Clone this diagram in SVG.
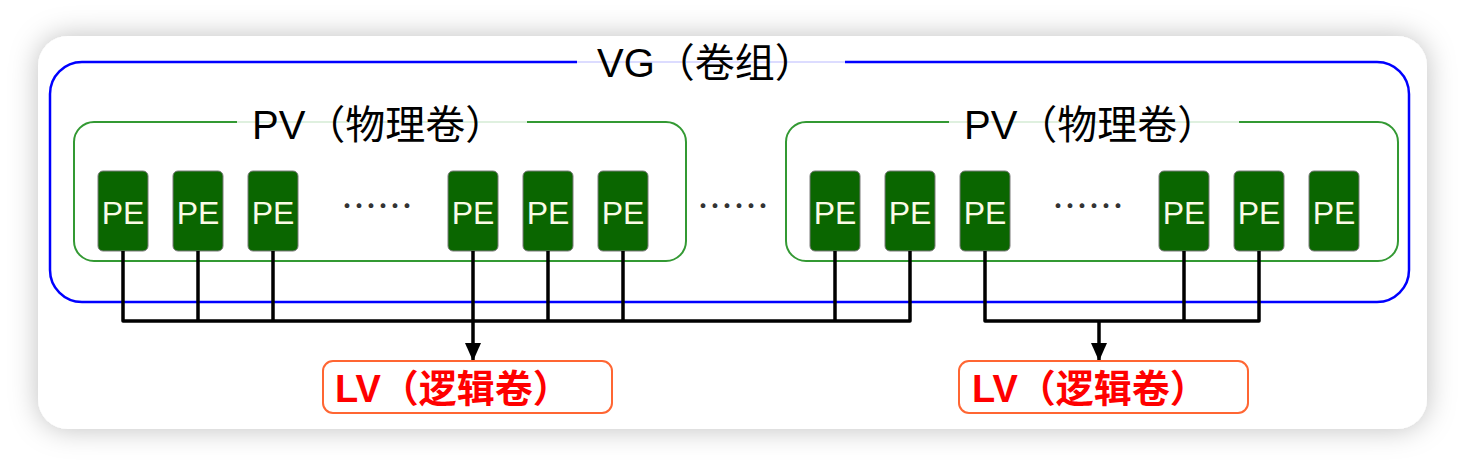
<svg xmlns="http://www.w3.org/2000/svg" width="1464" height="466" viewBox="0 0 1464 466">
<defs>
<filter id="sh" x="-10%" y="-20%" width="120%" height="140%">
<feDropShadow dx="0" dy="0" stdDeviation="14" flood-color="#000" flood-opacity="0.25"/>
</filter>
<marker id="arr" viewBox="0 0 18 16" refX="18" refY="8" markerWidth="18" markerHeight="16" markerUnits="userSpaceOnUse" orient="auto">
<path d="M0,0 L18,8 L0,16 Z" fill="#000"/>
</marker>
</defs>
<style>
.lbl{font-family:"Liberation Sans","Noto Sans CJK SC",sans-serif;font-size:40px;fill:#000}
.pe rect{fill:#0a6600;stroke:#7a7a7a;stroke-width:1}
.pe text{font-family:"Liberation Sans",sans-serif;font-size:32px;fill:#fbfbe6;text-anchor:middle}
.dots{font-family:"Noto Sans CJK SC",sans-serif;font-size:36px;fill:#333}
.pv{fill:none;stroke:#339933;stroke-width:2}
.pvgap{fill:none;stroke:#dff0df;stroke-width:2}
.lv rect{fill:#fff;stroke:#ff6633;stroke-width:2}
.lv text{font-family:"Liberation Sans","Noto Sans CJK SC",sans-serif;font-size:38px;font-weight:bold;fill:#ff0000}
#connectors path{fill:none;stroke:#000;stroke-width:3.5;stroke-linejoin:round}
</style>
<rect x="0" y="0" width="1464" height="466" fill="#fff"/>
<rect x="38" y="36" width="1389" height="393" rx="30" fill="#fff" filter="url(#sh)"/>

<g id="vg">
<path d="M577,62 H82 A32,32 0 0 0 50,94 V270 A32,32 0 0 0 82,302 H1377 A32,32 0 0 0 1409,270 V94 A32,32 0 0 0 1377,62 H845" fill="none" stroke="#0000ff" stroke-width="2.5"/>
<path d="M577,62 H845" stroke="#dcdcff" stroke-width="2"/>
<text class="lbl" x="597" y="77">VG（卷组）</text>
</g>

<g id="pv1">
<path class="pv" d="M237,122 H94 A20,20 0 0 0 74,142 V241 A20,20 0 0 0 94,261 H666 A20,20 0 0 0 686,241 V142 A20,20 0 0 0 666,122 H527"/>
<path class="pvgap" d="M237,122 H527"/>
<text class="lbl" x="252" y="139">PV（物理卷）</text>
</g>
<g id="pv2">
<path class="pv" d="M949,122 H806 A20,20 0 0 0 786,142 V241 A20,20 0 0 0 806,261 H1378 A20,20 0 0 0 1398,241 V142 A20,20 0 0 0 1378,122 H1239"/>
<path class="pvgap" d="M949,122 H1239"/>
<text class="lbl" x="964" y="139">PV（物理卷）</text>
</g>

<g id="pe1" class="pe"><rect x="98" y="171" width="50" height="80" rx="5"/><text x="123" y="224">PE</text></g>
<g id="pe2" class="pe"><rect x="173" y="171" width="50" height="80" rx="5"/><text x="198" y="224">PE</text></g>
<g id="pe3" class="pe"><rect x="248" y="171" width="50" height="80" rx="5"/><text x="273" y="224">PE</text></g>
<g id="pe4" class="pe"><rect x="448" y="171" width="50" height="80" rx="5"/><text x="473" y="224">PE</text></g>
<g id="pe5" class="pe"><rect x="523" y="171" width="50" height="80" rx="5"/><text x="548" y="224">PE</text></g>
<g id="pe6" class="pe"><rect x="598" y="171" width="50" height="80" rx="5"/><text x="623" y="224">PE</text></g>
<g id="pe7" class="pe"><rect x="810" y="171" width="50" height="80" rx="5"/><text x="835" y="224">PE</text></g>
<g id="pe8" class="pe"><rect x="885" y="171" width="50" height="80" rx="5"/><text x="910" y="224">PE</text></g>
<g id="pe9" class="pe"><rect x="960" y="171" width="50" height="80" rx="5"/><text x="985" y="224">PE</text></g>
<g id="pe10" class="pe"><rect x="1159" y="171" width="50" height="80" rx="5"/><text x="1184" y="224">PE</text></g>
<g id="pe11" class="pe"><rect x="1234" y="171" width="50" height="80" rx="5"/><text x="1259" y="224">PE</text></g>
<g id="pe12" class="pe"><rect x="1309" y="171" width="50" height="80" rx="5"/><text x="1334" y="224">PE</text></g>

<g id="dots">
<text class="dots" x="341" y="220">……</text>
<text class="dots" x="697" y="220">……</text>
<text class="dots" x="1052" y="220">……</text>
</g>

<g id="connectors">
<path d="M123,251 V321 H910 V251"/>
<path d="M198,251 V321"/>
<path d="M273,251 V321"/>
<path d="M548,251 V321"/>
<path d="M623,251 V321"/>
<path d="M835,251 V321"/>
<path d="M473,251 V361" marker-end="url(#arr)"/>
<path d="M985,251 V321 H1259 V251"/>
<path d="M1184,251 V321"/>
<path d="M1099,321 V361" marker-end="url(#arr)"/>
</g>

<g id="lv1" class="lv"><rect x="323" y="361" width="289" height="52" rx="10"/><text x="335" y="402">LV（逻辑卷）</text></g>
<g id="lv2" class="lv"><rect x="959" y="361" width="289" height="52" rx="10"/><text x="972" y="402">LV（逻辑卷）</text></g>
</svg>
